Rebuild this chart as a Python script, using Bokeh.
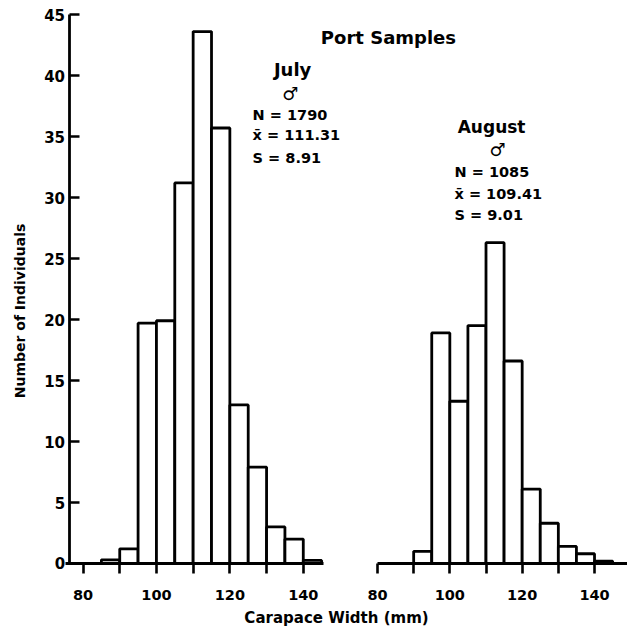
import math
from bokeh.plotting import figure
from bokeh.models import Range1d, LinearAxis, FixedTicker, Label
from bokeh.embed import file_html
from bokeh.resources import INLINE

# ---- data ----
july_bin_left = [85, 90, 95, 100, 105, 110, 115, 120, 125, 130, 135, 140]
july_bin_right = [90, 95, 100, 105, 110, 115, 120, 125, 130, 135, 140, 145]
july_counts = [0.3, 1.2, 19.7, 19.9, 31.2, 43.6, 35.7, 13.0, 7.9, 3.0, 2.0, 0.25]

aug_bin_left = [90, 95, 100, 105, 110, 115, 120, 125, 130, 135, 140]
aug_bin_right = [95, 100, 105, 110, 115, 120, 125, 130, 135, 140, 145]
aug_counts = [1.0, 18.9, 13.3, 19.5, 26.3, 16.6, 6.1, 3.3, 1.4, 0.8, 0.2]

x_ticks = [80, 90, 100, 110, 120, 130, 140]
x_tick_labels = {80: "80", 90: "", 100: "100", 110: "", 120: "120", 130: "", 140: "140"}
y_ticks = [0, 5, 10, 15, 20, 25, 30, 35, 40, 45]

title_text = "Port Samples"
x_label = "Carapace Width (mm)"
y_label = "Number of Individuals"
july_lines = ["N = 1790", "x\u0304 = 111.31", "S = 8.91"]
aug_lines = ["N = 1085", "x\u0304 = 109.41", "S = 9.01"]
male = "\u2642"

FONT = "DejaVu Sans"

# frame covers the whole canvas; axes are placed inside it with fixed_location
p = figure(width=627, height=634, output_backend="svg", toolbar_location=None,
           x_range=Range1d(57.52, 228.32), y_range=Range1d(-5.82, 46.15),
           x_axis_type=None, y_axis_type=None, min_border=0,
           min_border_left=0, min_border_right=0, min_border_top=0, min_border_bottom=0)
p.extra_x_ranges = {"aug": Range1d(-24.23, 149.12)}
p.outline_line_color = None
p.xgrid.visible = False
p.ygrid.visible = False
p.background_fill_color = "white"
p.border_fill_color = "white"


def style_axis(ax):
    ax.axis_line_width = 2.8
    ax.axis_line_color = "black"
    ax.major_tick_line_width = 2.6
    ax.major_tick_line_color = "black"
    ax.minor_tick_line_color = None
    ax.major_label_text_font = FONT
    ax.major_label_text_font_style = "bold"
    ax.major_label_text_color = "black"


# y axis (left panel)
yax = LinearAxis(ticker=FixedTicker(ticks=y_ticks), bounds=(0, 45), fixed_location=76.2)
style_axis(yax)
yax.major_tick_in = 10
yax.major_tick_out = 0
yax.major_label_standoff = 4
yax.major_label_text_font_size = "15px"
p.add_layout(yax, "left")

# x axis (left panel, July)
xax1 = LinearAxis(ticker=FixedTicker(ticks=x_ticks), bounds=(75.3, 145.5),
                  major_label_overrides=x_tick_labels, fixed_location=0)
style_axis(xax1)
xax1.major_tick_in = 0
xax1.major_tick_out = 10
xax1.major_label_standoff = 17
xax1.major_label_text_font_size = "14.5px"
p.add_layout(xax1, "below")

# x axis (right panel, August)
xax2 = LinearAxis(x_range_name="aug", ticker=FixedTicker(ticks=x_ticks), bounds=(80, 149.12),
                  major_label_overrides=x_tick_labels, fixed_location=0)
style_axis(xax2)
xax2.major_tick_in = 0
xax2.major_tick_out = 10
xax2.major_label_standoff = 17
xax2.major_label_text_font_size = "14.5px"
p.add_layout(xax2, "below")

# bars
p.quad(left=july_bin_left, right=july_bin_right, top=july_counts, bottom=0,
       fill_color="white", line_color="black", line_width=2.8)
p.quad(left=aug_bin_left, right=aug_bin_right, top=aug_counts, bottom=0,
       fill_color="white", line_color="black", line_width=2.8, x_range_name="aug")


def lab(x, y, text, size, align="left", angle=0.0):
    p.add_layout(Label(x=x, y=y, text=text, text_font=FONT, text_font_style="bold",
                       text_font_size=size, text_align=align, text_baseline="middle",
                       text_color="black", angle=angle))


lab(163.2, 43.1, title_text, "18px", "center")
lab(137.1, 40.5, "July", "18px", "center")
lab(136.5, 38.5, male, "18px", "center")
for i, t in enumerate(july_lines):
    lab(126.2, [36.8, 35.1, 33.2][i], t, "14.5px", "left")

lab(191.3, 35.8, "August", "17px", "center")
lab(192.9, 33.9, male, "18px", "center")
for i, t in enumerate(aug_lines):
    lab(181.2, [32.1, 30.3, 28.6][i], t, "14.5px", "left")

lab(149.05, -4.5, x_label, "15px", "center")
lab(62.7, 20.7, y_label, "14px", "center", angle=math.pi / 2)

open("out.html", "w").write(file_html(p, INLINE))
